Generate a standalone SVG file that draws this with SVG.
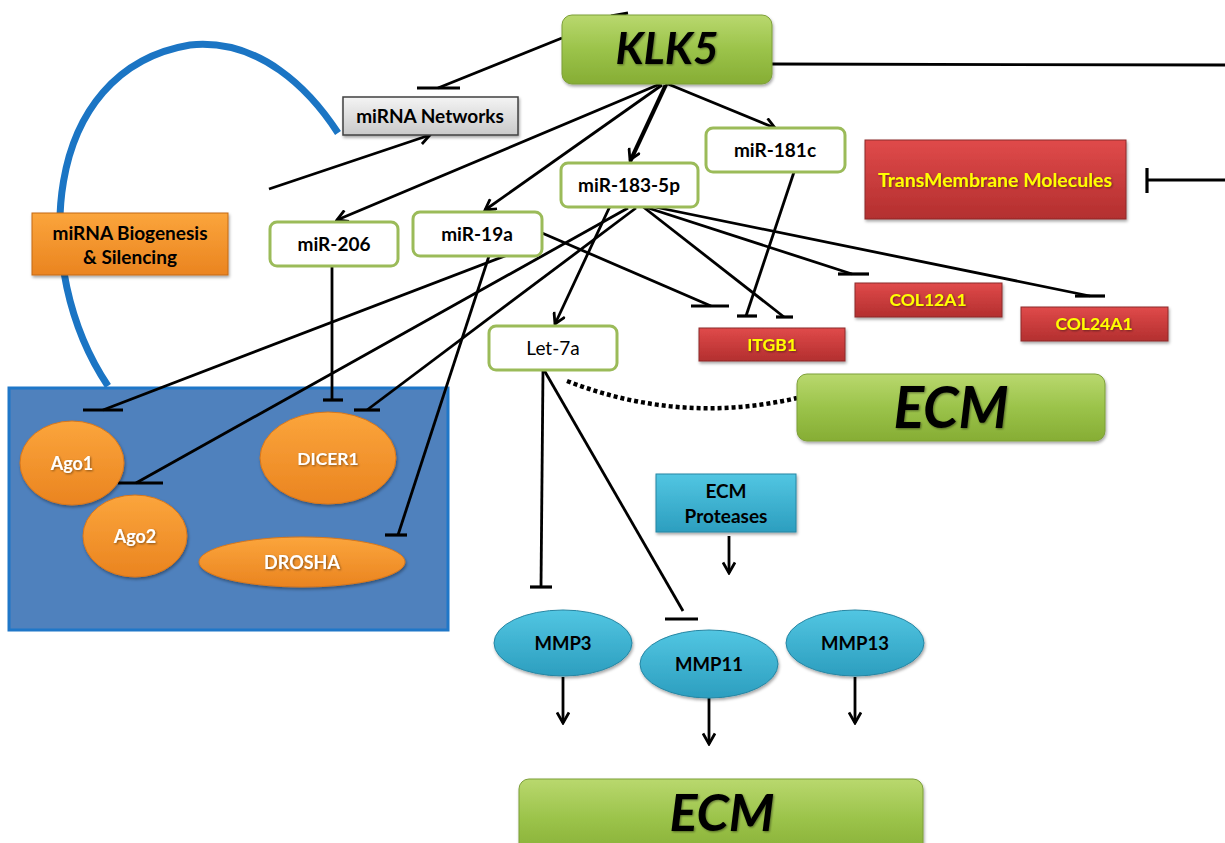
<svg xmlns="http://www.w3.org/2000/svg" width="1225" height="843" viewBox="0 0 1225 843">
<defs>
<linearGradient id="gGreen" x1="0" y1="0" x2="0" y2="1"><stop offset="0" stop-color="#b9d86e"/><stop offset="0.5" stop-color="#9bc34a"/><stop offset="1" stop-color="#86ad34"/></linearGradient>
<linearGradient id="gRed" x1="0" y1="0" x2="0" y2="1"><stop offset="0" stop-color="#e04a4a"/><stop offset="1" stop-color="#b32f2f"/></linearGradient>
<linearGradient id="gOrange" x1="0" y1="0" x2="0" y2="1"><stop offset="0" stop-color="#fba53c"/><stop offset="1" stop-color="#ea8420"/></linearGradient>
<linearGradient id="gCyan" x1="0" y1="0" x2="0" y2="1"><stop offset="0" stop-color="#52c6e2"/><stop offset="1" stop-color="#2c9ebf"/></linearGradient>
<linearGradient id="gGray" x1="0" y1="0" x2="0" y2="1"><stop offset="0" stop-color="#f4f4f4"/><stop offset="1" stop-color="#c9c9c9"/></linearGradient>
<filter id="sh" x="-10%" y="-10%" width="120%" height="130%"><feDropShadow dx="1" dy="2" stdDeviation="1.5" flood-color="#000" flood-opacity="0.35"/></filter>
<filter id="tsh" x="-10%" y="-20%" width="120%" height="140%"><feDropShadow dx="1" dy="1" stdDeviation="0.8" flood-color="#000" flood-opacity="0.45"/></filter>
<marker id="arr" viewBox="0 0 14 14" refX="12" refY="7" markerWidth="14" markerHeight="14" markerUnits="userSpaceOnUse" orient="auto">
<polyline points="1.5,1 12,7 1.5,13" fill="none" stroke="#000" stroke-width="2.8"/>
</marker>
<style>
.ln{stroke:#000;stroke-width:2.8;fill:none}
.bar{stroke:#000;stroke-width:3.2;fill:none}
.mir{fill:#fff;stroke:#9bbb59;stroke-width:3}
.t{font-family:Lato,"Liberation Sans",sans-serif;font-weight:bold;text-anchor:middle}
.blk{fill:#000}
.wht{fill:#fff}
.yel{fill:#ffff00}
</style>
</defs>

<rect width="1225" height="843" fill="#fff"/>

<!-- blue arc -->
<path d="M 108 386 C 30 270, 40 70, 190 45 C 260 38, 310 90, 338 133" fill="none" stroke="#1b75c4" stroke-width="7"/>

<!-- blue compartment -->
<rect x="9" y="388" width="439" height="242" fill="#4f81bd" stroke="#1f77c8" stroke-width="3"/>

<g id="connectors">
<line x1="772" y1="64" x2="1225" y2="65" class="ln"/>
<line x1="1225" y1="180" x2="1147" y2="180" class="ln"/>
<line x1="1147" y1="168" x2="1147" y2="193" class="bar"/>
<line x1="611" y1="16" x2="628" y2="13" class="ln"/>
<!-- KLK5 to miRNA networks -->
<line x1="562" y1="38" x2="438" y2="88" class="ln"/>
<line x1="417" y1="88" x2="460" y2="88" class="bar"/>
<line x1="269" y1="189" x2="430" y2="135" class="ln" marker-end="url(#arr)"/>
<!-- KLK5 arrows -->
<line x1="660" y1="84" x2="337" y2="220" class="ln" marker-end="url(#arr)"/>
<line x1="662" y1="85" x2="485" y2="210" class="ln" marker-end="url(#arr)"/>
<line x1="665" y1="85" x2="630" y2="160" class="ln" marker-end="url(#arr)"/>
<line x1="667" y1="84" x2="555" y2="324" class="ln" marker-end="url(#arr)"/>
<line x1="668" y1="84" x2="775" y2="128" class="ln" marker-end="url(#arr)"/>
<!-- miR-206 -> DICER1 -->
<line x1="332" y1="266" x2="332" y2="400" class="ln"/>
<line x1="323" y1="400" x2="343" y2="400" class="bar"/>
<!-- miR-19a -> Ago1 -->
<line x1="510" y1="254" x2="103" y2="410" class="ln"/>
<line x1="83" y1="410" x2="123" y2="410" class="bar"/>
<!-- miR-19a -> DROSHA -->
<line x1="489" y1="256" x2="398" y2="535" class="ln"/>
<line x1="385" y1="535" x2="407" y2="535" class="bar"/>
<!-- miR-19a -> ITGB1 -->
<line x1="542" y1="233" x2="711" y2="306" class="ln"/>
<line x1="691" y1="306" x2="729" y2="306" class="bar"/>
<!-- miR-183 -> Ago2 -->
<line x1="628" y1="208" x2="136" y2="483" class="ln"/>
<line x1="118" y1="483" x2="163" y2="483" class="bar"/>
<!-- miR-183 -> DICER1 -->
<line x1="636" y1="208" x2="367" y2="410" class="ln"/>
<line x1="354" y1="410" x2="380" y2="410" class="bar"/>
<!-- miR-183 -> ITGB1 -->
<line x1="642" y1="206" x2="784" y2="317" class="ln"/>
<line x1="776" y1="317" x2="793" y2="317" class="bar"/>
<!-- miR-181c -> ITGB1 -->
<line x1="794" y1="172" x2="746" y2="316" class="ln"/>
<line x1="737" y1="316" x2="757" y2="316" class="bar"/>
<!-- miR-183 -> COL12A1 -->
<line x1="642" y1="206" x2="852" y2="274" class="ln"/>
<line x1="838" y1="274" x2="869" y2="274" class="bar"/>
<!-- miR-183 -> COL24A1 -->
<line x1="645" y1="205" x2="1090" y2="296" class="ln"/>
<line x1="1075" y1="296" x2="1105" y2="296" class="bar"/>
<!-- Let-7a dotted to ECM -->
<path d="M 567 381 Q 680 425 797 398" fill="none" stroke="#000" stroke-width="4.5" stroke-dasharray="4 3"/>
<!-- Let-7a -> MMP3 -->
<line x1="543" y1="370" x2="541" y2="587" class="ln"/>
<line x1="530" y1="587" x2="552" y2="587" class="bar"/>
<!-- Let-7a -> MMP11 -->
<line x1="544" y1="370" x2="683" y2="611" class="ln"/>
<line x1="665" y1="619" x2="698" y2="619" class="bar"/>
<!-- ECM Proteases arrow -->
<line x1="729" y1="536" x2="729" y2="573" class="ln" marker-end="url(#arr)"/>
<!-- MMP arrows -->
<line x1="563" y1="677" x2="563" y2="723" class="ln" marker-end="url(#arr)"/>
<line x1="709" y1="698" x2="709" y2="744" class="ln" marker-end="url(#arr)"/>
<line x1="855" y1="677" x2="855" y2="723" class="ln" marker-end="url(#arr)"/>
</g>

<g id="KLK5">
<rect x="562" y="15" width="210" height="69" rx="10" fill="url(#gGreen)" stroke="#7d9f38" stroke-width="1" filter="url(#sh)"/>
<text x="667" y="64" class="t blk" font-size="44" font-style="italic" filter="url(#tsh)">KLK5</text>
</g>

<g id="miRNA-Networks">
<rect x="343" y="97" width="175" height="38" fill="url(#gGray)" stroke="#404040" stroke-width="1.5" filter="url(#sh)"/>
<text x="430" y="123" class="t blk" font-size="19">miRNA Networks</text>
</g>

<g id="miRNA-Biogenesis">
<rect x="32" y="213" width="196" height="62" fill="url(#gOrange)" stroke="#c46a14" stroke-width="1" filter="url(#sh)"/>
<text x="130" y="240" class="t blk" font-size="19">miRNA Biogenesis</text>
<text x="130" y="264" class="t blk" font-size="19">&amp; Silencing</text>
</g>

<g id="miR-206">
<rect x="270" y="222" width="128" height="44" rx="7" class="mir"/>
<text x="334" y="251" class="t blk" font-size="19">miR-206</text>
</g>
<g id="miR-19a">
<rect x="413" y="212" width="129" height="44" rx="7" class="mir"/>
<text x="477" y="241" class="t blk" font-size="19">miR-19a</text>
</g>
<g id="miR-183-5p">
<rect x="561" y="163" width="137" height="44" rx="7" class="mir"/>
<text x="629" y="192" class="t blk" font-size="19">miR-183-5p</text>
</g>
<g id="miR-181c">
<rect x="706" y="128" width="139" height="44" rx="7" class="mir"/>
<text x="775" y="157" class="t blk" font-size="19">miR-181c</text>
</g>
<g id="Let-7a">
<rect x="489" y="326" width="128" height="44" rx="7" class="mir"/>
<text x="553" y="355" class="t blk" font-size="19" style="font-weight:normal">Let-7a</text>
</g>

<g id="TransMembrane">
<rect x="865" y="140" width="261" height="79" fill="url(#gRed)" stroke="#8c2a2a" stroke-width="1" filter="url(#sh)"/>
<text x="995" y="187" class="t yel" font-size="19.5" filter="url(#tsh)">TransMembrane Molecules</text>
</g>
<g id="COL12A1">
<rect x="855" y="283" width="147" height="34" fill="url(#gRed)" stroke="#8c2a2a" stroke-width="1" filter="url(#sh)"/>
<text x="928" y="306" class="t yel" font-size="17.5" filter="url(#tsh)">COL12A1</text>
</g>
<g id="COL24A1">
<rect x="1021" y="307" width="147" height="34" fill="url(#gRed)" stroke="#8c2a2a" stroke-width="1" filter="url(#sh)"/>
<text x="1094" y="330" class="t yel" font-size="17.5" filter="url(#tsh)">COL24A1</text>
</g>
<g id="ITGB1">
<rect x="699" y="328" width="146" height="33" fill="url(#gRed)" stroke="#8c2a2a" stroke-width="1" filter="url(#sh)"/>
<text x="772" y="351" class="t yel" font-size="17.5" filter="url(#tsh)">ITGB1</text>
</g>

<g id="ECM-mid">
<rect x="797" y="374" width="308" height="67" rx="10" fill="url(#gGreen)" stroke="#7d9f38" stroke-width="1" filter="url(#sh)"/>
<text x="951" y="428" class="t blk" font-size="57" font-style="italic" filter="url(#tsh)">ECM</text>
</g>

<g id="Ago1">
<ellipse cx="72" cy="463" rx="52" ry="42" fill="url(#gOrange)" stroke="#d9771a" stroke-width="1" filter="url(#sh)"/>
<text x="72" y="470" class="t wht" font-size="18" filter="url(#tsh)">Ago1</text>
</g>
<g id="Ago2">
<ellipse cx="135" cy="536" rx="52" ry="41" fill="url(#gOrange)" stroke="#d9771a" stroke-width="1" filter="url(#sh)"/>
<text x="135" y="543" class="t wht" font-size="18" filter="url(#tsh)">Ago2</text>
</g>
<g id="DICER1">
<ellipse cx="328" cy="458" rx="68" ry="46" fill="url(#gOrange)" stroke="#d9771a" stroke-width="1" filter="url(#sh)"/>
<text x="328" y="465" class="t wht" font-size="17.5" filter="url(#tsh)">DICER1</text>
</g>
<g id="DROSHA">
<ellipse cx="302" cy="562" rx="103" ry="25" fill="url(#gOrange)" stroke="#d9771a" stroke-width="1" filter="url(#sh)"/>
<text x="302" y="569" class="t wht" font-size="18" filter="url(#tsh)">DROSHA</text>
</g>

<g id="ECM-Proteases">
<rect x="656" y="474" width="140" height="58" fill="url(#gCyan)" stroke="#2786a3" stroke-width="1" filter="url(#sh)"/>
<text x="726" y="498" class="t blk" font-size="19">ECM</text>
<text x="726" y="523" class="t blk" font-size="19">Proteases</text>
</g>

<g id="MMP3">
<ellipse cx="563" cy="643" rx="69" ry="33" fill="url(#gCyan)" stroke="#2786a3" stroke-width="1" filter="url(#sh)"/>
<text x="563" y="650" class="t blk" font-size="18.5">MMP3</text>
</g>
<g id="MMP11">
<ellipse cx="709" cy="664" rx="69" ry="34" fill="url(#gCyan)" stroke="#2786a3" stroke-width="1" filter="url(#sh)"/>
<text x="709" y="671" class="t blk" font-size="18.5">MMP11</text>
</g>
<g id="MMP13">
<ellipse cx="855" cy="643" rx="69" ry="33" fill="url(#gCyan)" stroke="#2786a3" stroke-width="1" filter="url(#sh)"/>
<text x="855" y="650" class="t blk" font-size="18.5">MMP13</text>
</g>

<g id="ECM-bottom">
<rect x="519" y="779" width="404" height="80" rx="10" fill="url(#gGreen)" stroke="#7d9f38" stroke-width="1" filter="url(#sh)"/>
<text x="722" y="831" class="t blk" font-size="52" font-style="italic" filter="url(#tsh)">ECM</text>
</g>
</svg>
